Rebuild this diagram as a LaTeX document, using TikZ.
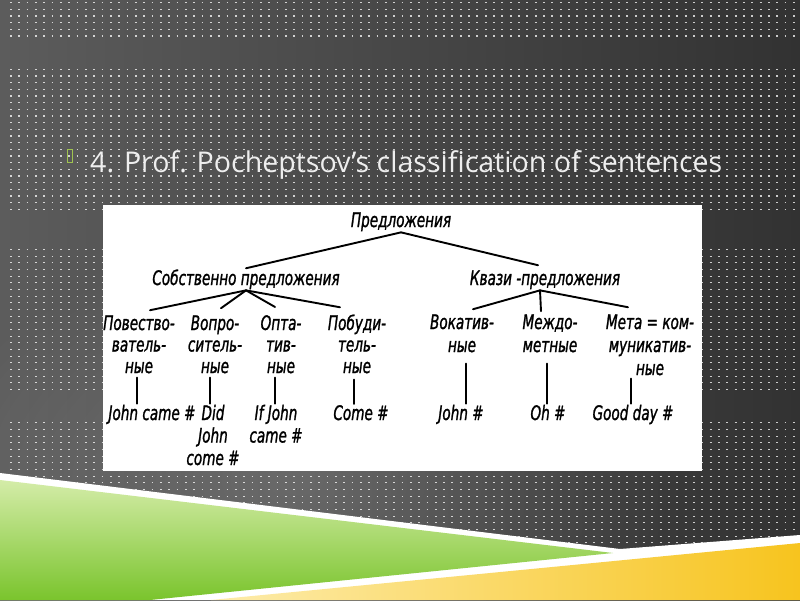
\documentclass[tikz,border=0pt]{standalone}
\usepackage{fontspec}
\setmainfont{Open Sans}
\newfontfamily\gost[FakeStretch=0.68,FakeBold=1.2]{DejaVu Sans}
\usetikzlibrary{fadings}
\definecolor{bgL}{RGB}{92,92,92}
\definecolor{bgR}{RGB}{50,50,50}
\definecolor{titlec}{RGB}{238,238,238}
\definecolor{bulletc}{RGB}{160,196,80}
\definecolor{grL}{RGB}{212,236,168}
\definecolor{grD}{RGB}{122,196,45}
\definecolor{yeL}{RGB}{253,236,172}
\definecolor{yeD}{RGB}{247,196,30}
\tikzfading[name=softspot, inner color=transparent!0, outer color=transparent!100]
\tikzset{
  dotrow/.style={white, opacity=0.75, line width=1.1pt, dash pattern=on 1.8pt off 6.53pt},
  tx/.style={font={\gost\itshape\fontsize{20}{21.5}\selectfont}, inner sep=1pt, align=center, anchor=base, text=black},
  txw/.style={tx, font={\gost\itshape\fontsize{20}{23}\selectfont}},
  txe/.style={tx, font={\gost\itshape\fontsize{20}{22.5}\selectfont}},
  edge/.style={draw=black, line width=1.9pt, line cap=round},
}
\begin{document}
\begin{tikzpicture}[x=1pt,y=-1pt]
\useasboundingbox (0,0) rectangle (800,600);
% background
\shade[left color=bgL, right color=bgR] (0,0) rectangle (800,600);
\fill[white, opacity=0.16, path fading=softspot] (300,480) ellipse [x radius=380, y radius=240];
% dot grid
\foreach \a/\b in {0/5,10/31,37/58,63/89}{
  \foreach \k in {\a,...,\b}{
    \pgfmathsetmacro\yy{2.7+6.667*\k}
    \draw[dotrow] (10,\yy) -- (800,\yy);
  }
}
% bottom decoration
\fill[white] (0,473) -- (620,549) -- (800,535) -- (800,600) -- (0,600) -- cycle;
\shade[top color=grL, bottom color=grD] (0,480) -- (613,553) -- (150,600) -- (0,600) -- cycle;
\shade[left color=yeL, right color=yeD] (211,600) -- (800,543) -- (800,600) -- cycle;
% title
\draw[bulletc, line width=0.8pt] (67.5,149.5) rectangle (72.5,162.5);
\node[anchor=base west, inner sep=0pt, text=titlec] (title) at (90,172)
  {\resizebox{632pt}{!}{4. Prof. Pocheptsov’s classification of sentences}};
% picture box
\fill[white] (103,205) rectangle (702,471);
% tree
\node[tx] (root) at (401,227) {Предложения};
\node[tx] (sob) at (246,285) {Собственно предложения};
\node[tx] (kv) at (545,285) {Квази -предложения};
\node[tx] (pov) at (139,373) {Повество-\\ватель-\\ные};
\node[tx] (vop) at (215,373) {Вопро-\\ситель-\\ные};
\node[tx] (opt) at (281,373) {Опта-\\тив-\\ные};
\node[tx] (pob) at (357,373) {Побуди-\\тель-\\ные};
\node[txw] (vok) at (462,352) {Вокатив-\\ные};
\node[txw] (mezh) at (550,352) {Междо-\\метные};
\node[txw] (meta) at (650,375) {Мета = ком-\\муникатив-\\ные};
\node[tx] (jc) at (152,420) {John came \#};
\node[txe] (did) at (213,465) {Did\\John\\come \#};
\node[txe] (ifj) at (276,442.5) {If John\\came \#};
\node[tx] (come) at (361,420) {Come \#};
\node[tx] (john) at (461,420) {John \#};
\node[tx] (oh) at (548,420) {Oh \#};
\node[tx] (gd) at (633,420) {Good day \#};
% connectors
\draw[edge] (root.south) -- (sob.north);
\draw[edge] (root.south) -- ([xshift=-7pt,yshift=4pt]kv.north);
\draw[edge] (sob.south) -- ([xshift=11pt,yshift=4pt]pov.north);
\draw[edge] (sob.south) -- ([xshift=6pt,yshift=6pt]vop.north);
\draw[edge] (sob.south) -- ([xshift=-6pt,yshift=7pt]opt.north);
\draw[edge] (sob.south) -- ([xshift=-17pt,yshift=6pt]pob.north);
\draw[edge] ([xshift=-5pt]kv.south) -- ([xshift=11pt,yshift=4pt]vok.north);
\draw[edge] ([xshift=-5pt]kv.south) -- ([xshift=-9pt,yshift=2pt]mezh.north);
\draw[edge] ([xshift=-5pt]kv.south) -- ([xshift=-22pt,yshift=6pt]meta.north);
\draw[edge] ([xshift=-2pt,yshift=-3pt]pov.south) -- ([xshift=-2pt]pov.south |- jc.north);
\draw[edge] ([xshift=-5pt,yshift=-3pt]vop.south) -- ([xshift=-5pt]vop.south |- did.north);
\draw[edge] ([xshift=-6pt,yshift=-3pt]opt.south) -- ([xshift=-6pt]opt.south |- ifj.north);
\draw[edge] ([xshift=-3pt,yshift=-5pt]pob.south) -- ([xshift=-3pt]pob.south |- come.north);
\draw[edge] ([xshift=4pt,yshift=-10pt]vok.south) -- ([xshift=4pt]vok.south |- john.north);
\draw[edge] ([xshift=-3pt,yshift=-10pt]mezh.south) -- ([xshift=-3pt]mezh.south |- oh.north);
\draw[edge] ([xshift=-19pt,yshift=-2pt]meta.south) -- ([xshift=-19pt]meta.south |- gd.north);
\end{tikzpicture}
\end{document}
